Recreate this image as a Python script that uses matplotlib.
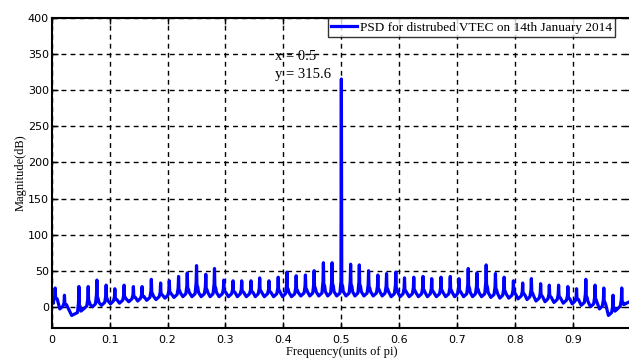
import numpy as np
import matplotlib.pyplot as plt

# spike frequencies (units of pi) and their peak magnitudes (dB)
peak_freq = [0.006, 0.022, 0.047, 0.063, 0.078, 0.094, 0.109, 0.125, 0.141, 0.156,
             0.172, 0.188, 0.203, 0.219, 0.234, 0.250, 0.266, 0.281, 0.297, 0.313,
             0.328, 0.344, 0.359, 0.375, 0.391, 0.406, 0.422, 0.438, 0.453, 0.469,
             0.484, 0.500, 0.516, 0.531, 0.547, 0.563, 0.578, 0.594, 0.609, 0.625,
             0.641, 0.656, 0.672, 0.688, 0.703, 0.719, 0.734, 0.750, 0.766, 0.781,
             0.797, 0.813, 0.828, 0.844, 0.859, 0.875, 0.891, 0.906, 0.922, 0.938,
             0.953, 0.969, 0.984]
peak_mag = [26, 16, 28, 28, 37, 30, 25, 30, 28, 28,
            38, 33, 36, 42, 47, 57, 45, 53, 37, 36,
            36, 36, 40, 36, 41, 48, 43, 44, 50, 61,
            61, 315.6, 59, 58, 50, 44, 46, 48, 40, 41,
            42, 39, 41, 42, 39, 53, 47, 58, 46, 41,
            36, 33, 39, 32, 30, 30, 28, 25, 38, 30,
            26, 16, 26]
# floor level in the gap before each spike
valley_mag = [5, -3, -12, -3, 0, 2, 4, 5, 7, 8,
              9, 10, 12, 13, 14, 14, 14, 14, 14, 14,
              14, 14, 14, 14, 14, 14, 14, 15, 15, 15,
              15, 15, 15, 15, 15, 15, 15, 14, 14, 14,
              14, 14, 14, 14, 14, 14, 14, 14, 13, 12,
              12, 11, 10, 8, 7, 6, 5, 4, 2, 0,
              -3, -12, -3]
start_mag = 8
end_mag = 8

# build the PSD trace: a narrow spike with a small shoulder per harmonic
fx = [0.0]
fy = [start_mag]
prev = 0.0
for f, h, v in zip(peak_freq, peak_mag, valley_mag):
    mid = (prev + f) / 2 if prev > 0 else f / 2
    amp = min(h - v, 45)
    fx += [mid, f - 0.0025, f - 0.0007, f, f + 0.0007, f + 0.0022, f + 0.0034]
    fy += [v, v + 4, v + 0.45 * amp, h, v + 0.38 * amp, v + 0.3 * amp, v + 6]
    prev = f
fx += [1.0]
fy += [end_mag]

plt.rcParams['font.family'] = ['Liberation Serif', 'DejaVu Serif']

fig = plt.figure(figsize=(6.29, 3.6), dpi=100)
ax = fig.add_axes([0.0822, 0.0897, 0.921, 0.860])

ax.plot(fx, fy, color=(0, 0, 1), linewidth=2.3,
        label='PSD for distrubed VTEC on 14th January 2014')

ax.set_xlim(0, 1)
ax.set_ylim(-29, 400)
ax.set_xticks(np.arange(0, 0.91, 0.1))
ax.set_xticklabels(['0', '0.1', '0.2', '0.3', '0.4', '0.5', '0.6', '0.7', '0.8', '0.9'])
ax.set_yticks(np.arange(0, 401, 50))
ax.tick_params(direction='in', top=True, right=True, length=4, width=1)
for lab in ax.get_xticklabels() + ax.get_yticklabels():
    lab.set_family('DejaVu Sans')
    lab.set_fontsize(8)
ax.tick_params(axis='x', pad=5)
ax.tick_params(axis='y', pad=2)

ax.grid(True, color='black', linestyle=(0, (3.5, 3)), linewidth=1)
for s in ax.spines.values():
    s.set_linewidth(1.5)

ax.set_xlabel('Frequency(units of pi)', fontsize=9, labelpad=1)
ax.set_ylabel('Magnitude(dB)', fontsize=9, labelpad=1)

# data tip on the main peak
ax.text(0.385, 347, 'x = 0.5', fontsize=10.5, ha='left', va='center')
ax.text(0.385, 322, 'y = 315.6', fontsize=10.5, ha='left', va='center')

leg = ax.legend(loc='upper right', bbox_to_anchor=(0.973, 1.0), fontsize=9.5,
                frameon=True, fancybox=False, edgecolor='black',
                handlelength=2.0, handletextpad=0.2, borderpad=0.25,
                borderaxespad=0)
leg.get_frame().set_linewidth(1)

fig.savefig('out.png', dpi=100)
